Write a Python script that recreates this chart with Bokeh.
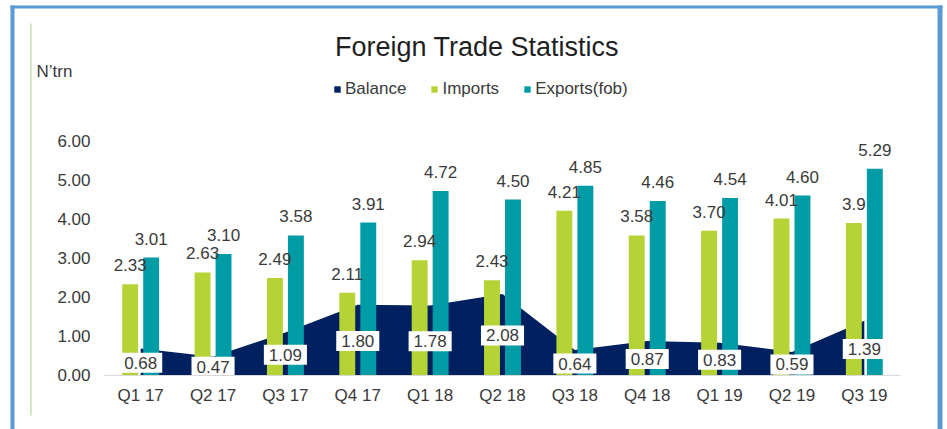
from bokeh.plotting import figure
from bokeh.models import (ColumnDataSource, Range1d, FixedTicker, NumeralTickFormatter,
                          Legend, LegendItem, Label, BoxAnnotation)
from bokeh.transform import dodge
from bokeh.embed import file_html
from bokeh.resources import INLINE

quarters = ["Q1 17", "Q2 17", "Q3 17", "Q4 17", "Q1 18", "Q2 18",
            "Q3 18", "Q4 18", "Q1 19", "Q2 19", "Q3 19"]
balance = [0.68, 0.47, 1.09, 1.80, 1.78, 2.08, 0.64, 0.87, 0.83, 0.59, 1.39]
imports = [2.33, 2.63, 2.49, 2.11, 2.94, 2.43, 4.21, 3.58, 3.70, 4.01, 3.90]
exports = [3.01, 3.10, 3.58, 3.91, 4.72, 4.50, 4.85, 4.46, 4.54, 4.60, 5.29]
import_labels = ["2.33", "2.63", "2.49", "2.11", "2.94", "2.43", "4.21", "3.58", "3.70", "4.01", "3.9"]
y_ticks = [0, 1, 2, 3, 4, 5, 6]

NAVY = "#002060"
LIME = "#B5D334"
TEAL = "#009CA6"
FRAME_BLUE = "#5B9BD5"
TXT = "#3a3a3a"
FONT = "Liberation Sans"

# ---- layout (pixels) ----
W, H = 947, 429
PLOT_L, PLOT_R = 104, 900       # category area
Y0_PX, Y6_PX = 374.5, 140.5     # pixel rows of 0 and 6
n = len(quarters)
px_per_cat = (PLOT_R - PLOT_L) / n
px_per_unit = (Y0_PX - Y6_PX) / 6
x_start = -PLOT_L / px_per_cat
x_end = n + (W - PLOT_R) / px_per_cat
y_start = -(H - Y0_PX) / px_per_unit
y_end = 6 + Y6_PX / px_per_unit

xc = [i + 0.5 for i in range(n)]
src = ColumnDataSource(dict(
    x=xc, balance=balance, imports=imports, exports=exports,
    bal_mid=[b / 2 for b in balance],
    bal_lbl=[f"{b:.2f}" for b in balance],
    imp_lbl=import_labels,
    exp_lbl=[f"{e:.2f}" for e in exports],
))

p = figure(x_range=Range1d(x_start, x_end), y_range=Range1d(y_start, y_end),
           width=W, height=H, output_backend="svg", toolbar_location=None, title=None,
           min_border=0)
p.outline_line_color = None
p.background_fill_color = "white"
p.border_fill_color = "white"
p.xgrid.grid_line_color = None
p.ygrid.grid_line_color = None

# balance area
r_bal = p.varea(x="x", y1=0, y2="balance", source=src, fill_color=NAVY)
# bars
r_imp = p.vbar(x=dodge("x", -0.145), top="imports", width=0.22,
               source=src, fill_color=LIME, line_color=None)
r_exp = p.vbar(x=dodge("x", 0.145), top="exports", width=0.22,
               source=src, fill_color=TEAL, line_color=None)

# bar value labels
p.text(x=dodge("x", -0.145), y="imports", text="imp_lbl", source=src,
       text_align="center", text_baseline="alphabetic", y_offset=-19,
       text_font={"value": FONT}, text_font_size="17px", text_color=TXT)
p.text(x=dodge("x", 0.145), y="exports", text="exp_lbl", source=src,
       text_align="center", text_baseline="alphabetic", y_offset=-19,
       text_font={"value": FONT}, text_font_size="17px", text_color=TXT)
# balance labels (boxed)
p.text(x="x", y="bal_mid", text="bal_lbl", source=src,
       text_align="center", text_baseline="middle", y_offset=1,
       text_font={"value": FONT}, text_font_size="17px", text_color=TXT,
       background_fill_color="white", padding=dict(left=5, right=5, top=4, bottom=4))

# axes (drawn inside the full-size frame)
p.yaxis.fixed_location = 0
p.yaxis.ticker = FixedTicker(ticks=y_ticks)
p.yaxis.formatter = NumeralTickFormatter(format="0.00")
p.yaxis.axis_line_color = None
p.yaxis.major_tick_line_color = None
p.yaxis.minor_tick_line_color = None
p.yaxis.major_tick_out = 0
p.yaxis.major_tick_in = 0
p.yaxis.major_label_standoff = 14
p.yaxis.major_label_text_font = FONT
p.yaxis.major_label_text_font_size = "17px"
p.yaxis.major_label_text_color = TXT

p.xaxis.fixed_location = 0
p.xaxis.bounds = (0, n)
p.xaxis.ticker = FixedTicker(ticks=xc)
p.xaxis.major_label_overrides = {x: q for x, q in zip(xc, quarters)}
p.xaxis.axis_line_color = "#D9D9D9"
p.xaxis.major_tick_line_color = None
p.xaxis.minor_tick_line_color = None
p.xaxis.major_tick_out = 0
p.xaxis.major_tick_in = 0
p.xaxis.major_label_standoff = 11
p.xaxis.major_label_text_font = FONT
p.xaxis.major_label_text_font_size = "17px"
p.xaxis.major_label_text_color = TXT

# legend
legend = Legend(items=[LegendItem(label="Balance", renderers=[r_bal]),
                       LegendItem(label="Imports", renderers=[r_imp]),
                       LegendItem(label="Exports(fob)", renderers=[r_exp])],
                orientation="horizontal", location=(333, H - 99),
                glyph_width=8, glyph_height=8, label_height=8, label_standoff=4, spacing=24,
                padding=0, margin=0, border_line_color=None, background_fill_alpha=0,
                label_text_font=FONT, label_text_font_size="17px", label_text_color=TXT)
p.add_layout(legend)

# title and unit
p.add_layout(Label(x=476.5, y=H - 46, x_units="screen", y_units="screen",
                   text="Foreign Trade Statistics", text_align="center",
                   text_baseline="alphabetic", text_font=FONT, text_font_size="27px",
                   text_color="#1f1f1f"))
p.add_layout(Label(x=36, y=H - 71, x_units="screen", y_units="screen",
                   text="N\u2019trn", text_align="left", text_baseline="alphabetic",
                   text_font=FONT, text_font_size="17px", text_color=TXT))

# frame decoration
for l, r, t, b, c in [(10, 14, 5, H, FRAME_BLUE), (937, 942, 5, H, FRAME_BLUE),
                      (10, 942, 5, 8, FRAME_BLUE), (30, 31, 23, 415, "#A9D18E")]:
    p.add_layout(BoxAnnotation(left=l, right=r, top=t, bottom=b,
                               left_units="canvas", right_units="canvas",
                               top_units="canvas", bottom_units="canvas",
                               fill_color=c, fill_alpha=1, line_color=None))

open("out.html", "w").write(file_html(p, INLINE))
